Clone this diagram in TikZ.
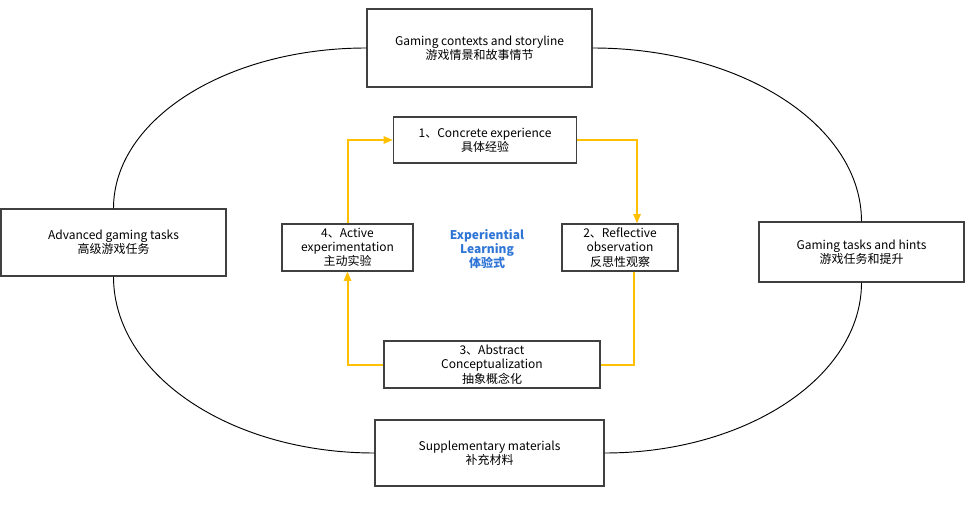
\documentclass[tikz,border=0pt]{standalone}
\usepackage{fontspec}
\setmainfont{Noto Sans CJK SC}
\usetikzlibrary{arrows.meta,calc}
\definecolor{flowyellow}{RGB}{255,192,0}
\definecolor{learnblue}{RGB}{47,117,214}
\tikzset{
	box/.style={draw=black!75, line width=0.9pt, fill=white, align=center, inner sep=1pt, font=\fontsize{9}{10.7}\selectfont},
	flow/.style={draw=flowyellow, line width=1.5pt},
	flowarrow/.style={flow, -{Triangle[length=7pt,width=5.5pt]}},
	ring/.style={line width=0.7pt},
}

\begin{document}
\begin{tikzpicture}[x=0.75pt, y=-0.75pt]
		%%%%% START %%%%%
		\useasboundingbox (0, 0) rectangle (968, 506);
		
		% outer ring boxes
		\node[box, minimum width=168.75pt, minimum height=58.5pt] (story) at (479.5, 48) {Gaming contexts and storyline\\游戏情景和故事情节};
		\node[box, minimum width=168.75pt, minimum height=50.25pt] (advanced) at (113.5, 242.5) {Advanced gaming tasks\\高级游戏任务};
		\node[box, minimum width=153.75pt, minimum height=45pt] (hints) at (861.5, 252) {Gaming tasks and hints\\游戏任务和提升};
		\node[box, minimum width=171.75pt, minimum height=49.5pt] (supp) at (489.5, 453) {Supplementary materials\\补充材料};
		
		% ring
		\draw[ring] (story.west) .. controls +(-140, 0) and +(0, -89) .. (advanced.north);
		\draw[ring] (advanced.south) .. controls +(0, 98) and +(-144, 0) .. (supp.west);
		\draw[ring] (supp.east) .. controls +(142, 0) and +(0, 94) .. (hints.south);
		\draw[ring] (hints.north) .. controls +(0, -96) and +(149, 0) .. (story.east);
		
		% learning cycle
		\node[box, minimum width=137.25pt, minimum height=34.5pt] (concrete) at (485, 140) {1、Concrete experience\\具体经验};
		\node[box, minimum width=87pt, minimum height=35.25pt] (reflect) at (620, 247.5) {2、Reflective\\observation\\反思性观察};
		\node[box, minimum width=162pt, minimum height=35.25pt] (abstract) at (492, 364.5) {3、Abstract\\Conceptualization\\抽象概念化};
		\node[box, minimum width=98.25pt, minimum height=35.25pt] (active) at (347.5, 247.5) {4、Active\\experimentation\\主动实验};
		
		\node[align=center, text=learnblue, font=\fontsize{9}{10.5}\selectfont\bfseries] (center) at (487, 249) {Experiential\\Learning\\体验式};
		
		\draw[flowarrow] (concrete.east) -| ($(reflect.north)+(17, 0)$);
		\draw[flow] ($(reflect.south)+(14, 0)$) |- (abstract.east);
		\draw[flowarrow] (abstract.west) -| (active.south);
		\draw[flowarrow] (active.north) |- (concrete.west);
		
		%%%%% END %%%%%
	\end{tikzpicture}
\end{document}
